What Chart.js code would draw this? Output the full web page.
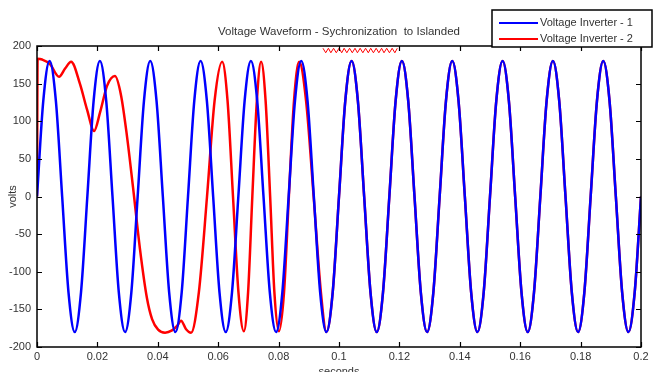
<!DOCTYPE html>
<html>
<head>
<meta charset="utf-8">
<script src="https://cdn.jsdelivr.net/npm/chart.js@4.4.1/dist/chart.umd.min.js"></script>
<style>
    html, body { margin: 0; padding: 0; background: #fff; }
    canvas { display: block; }
</style>
</head>
<body>
<canvas id="voltage-chart" width="654" height="372"></canvas>
<script>
/* ================================= 
  data
==================================== */
// inverter 1 (blue) sample times, seconds
const blueTimes = [
    0, 0.00208, 0.00417, 0.00625, 0.00833, 0.01042, 0.0125, 0.01458,
    0.01667, 0.01875, 0.02083, 0.02292, 0.025, 0.02708, 0.02917, 0.03125,
    0.03333, 0.03542, 0.0375, 0.03958, 0.04167, 0.04375, 0.04583, 0.04792,
    0.05, 0.05208, 0.05417, 0.05625, 0.05833, 0.06042, 0.0625, 0.06458,
    0.06667, 0.06875, 0.07083, 0.07292, 0.075, 0.07708, 0.07917, 0.08125,
    0.08333, 0.08542, 0.0875, 0.08958, 0.09167, 0.09375, 0.09583, 0.09792,
    0.1, 0.10208, 0.10417, 0.10625, 0.10833, 0.11042, 0.1125, 0.11458,
    0.11667, 0.11875, 0.12083, 0.12292, 0.125, 0.12708, 0.12917, 0.13125,
    0.13333, 0.13542, 0.1375, 0.13958, 0.14167, 0.14375, 0.14583, 0.14792,
    0.15, 0.15208, 0.15417, 0.15625, 0.15833, 0.16042, 0.1625, 0.16458,
    0.16667, 0.16875, 0.17083, 0.17292, 0.175, 0.17708, 0.17917, 0.18125,
    0.18333, 0.18542, 0.1875, 0.18958, 0.19167, 0.19375, 0.19583, 0.19792,
    0.2
];
// inverter 1 (blue) volts
const blueVolts = [
    0, 127, 180, 127, 0, -127, -180, -127,
    0, 127, 180, 127, 0, -127, -180, -127,
    0, 127, 180, 127, 0, -127, -180, -127,
    0, 127, 180, 127, 0, -127, -180, -127,
    0, 127, 180, 127, 0, -127, -180, -127,
    0, 127, 180, 127, 0, -127, -180, -127,
    0, 127, 180, 127, 0, -127, -180, -127,
    0, 127, 180, 127, 0, -127, -180, -127,
    0, 127, 180, 127, 0, -127, -180, -127,
    0, 127, 180, 127, 0, -127, -180, -127,
    0, 127, 180, 127, 0, -127, -180, -127,
    0, 127, 180, 127, 0, -127, -180, -127,
    0
];

// inverter 2 (red) before it locks onto inverter 1
const redTimes = [
    0, 0.0002, 0.0017, 0.0043, 0.0073, 0.0093, 0.0113, 0.0142,
    0.0166, 0.0189, 0.0209, 0.0232, 0.0258, 0.0278, 0.0298, 0.0318,
    0.0341, 0.0364, 0.0381, 0.0401, 0.0424, 0.0447, 0.0464, 0.0477,
    0.0493, 0.051, 0.0536, 0.0563, 0.0588, 0.0613, 0.0631, 0.0649,
    0.0667, 0.0685, 0.0699, 0.0713, 0.0728, 0.0742, 0.0757, 0.0772,
    0.0786, 0.0801, 0.0818, 0.0834, 0.0851, 0.0868, 0.0891, 0.0916,
    0.094
];
const redVolts = [
    0, 183, 182, 176, 159, 170, 179, 150,
    115, 87, 112, 147, 160, 135, 80, 12,
    -70, -135, -163, -177, -181, -178, -172, -165,
    -176, -181, -127, 0, 127, 179, 127, 0,
    -127, -179, -127, 0, 127, 179, 127, 0,
    -127, -179, -127, 0, 127, 179, 127, 0,
    -127
];
// from here on red sits on top of blue
const syncIndex = 46;

// small red ripple along the top edge
const rippleTimes = [
    0.0947, 0.0956, 0.0965, 0.0973, 0.0982, 0.0991, 0.1, 0.1009,
    0.1017, 0.1026, 0.1035, 0.1044, 0.1053, 0.1061, 0.107, 0.1079,
    0.1088, 0.1097, 0.1105, 0.1114, 0.1123, 0.1132, 0.1141, 0.1149,
    0.1158, 0.1167, 0.1176, 0.1185, 0.1193
];
const rippleVolts = [
    197, 191, 197, 191, 197, 191, 197, 191,
    197, 191, 197, 191, 197, 191, 197, 191,
    197, 191, 197, 191, 197, 191, 197, 191,
    197, 191, 197, 191, 197
];

const seriesNames = ['Voltage Inverter - 1', 'Voltage Inverter - 2'];
const xTicks = [0, 0.02, 0.04, 0.06, 0.08, 0.1, 0.12, 0.14, 0.16, 0.18, 0.2];
const xTickLabels = ['0', '0.02', '0.04', '0.06', '0.08', '0.1', '0.12', '0.14', '0.16', '0.18', '0.2'];
const yTicks = [-200, -150, -100, -50, 0, 50, 100, 150, 200];
const chartTitle = 'Voltage Waveform - Sychronization  to Islanded';

/* ================================= 
  helpers
==================================== */
const toPoints = (times, volts) => times.map((t, i) => ({ x: t, y: volts[i] }));

const bluePoints = toPoints(blueTimes, blueVolts);
const redPoints = toPoints(
    redTimes.concat(blueTimes.slice(syncIndex)),
    redVolts.concat(blueVolts.slice(syncIndex))
);
const ripplePoints = toPoints(rippleTimes, rippleVolts);

const fontFamily = '"Liberation Sans", Arial, sans-serif';
const textFont = '11px ' + fontFamily;

// matlab style box, inward ticks, title and legend
const matlabFrame = {
    id: 'matlabFrame',
    afterDraw(chart) {
        const { ctx, chartArea: a, scales: { x, y } } = chart;
        ctx.save();

        ctx.strokeStyle = '#000';
        ctx.lineWidth = 1.5;
        ctx.strokeRect(a.left, a.top, a.right - a.left, a.bottom - a.top);

        ctx.beginPath();
        ctx.lineWidth = 1.2;
        x.ticks.forEach(t => {
            const px = Math.round(x.getPixelForValue(t.value)) + 0.5;
            ctx.moveTo(px, a.bottom);
            ctx.lineTo(px, a.bottom - 5);
            ctx.moveTo(px, a.top);
            ctx.lineTo(px, a.top + 5);
        });
        y.ticks.forEach(t => {
            const py = Math.round(y.getPixelForValue(t.value)) + 0.5;
            ctx.moveTo(a.left, py);
            ctx.lineTo(a.left + 5, py);
            ctx.moveTo(a.right, py);
            ctx.lineTo(a.right - 5, py);
        });
        ctx.stroke();

        // title
        ctx.fillStyle = '#333';
        ctx.font = '11.5px ' + fontFamily;
        ctx.textAlign = 'center';
        ctx.textBaseline = 'middle';
        ctx.fillText(chartTitle, (a.left + a.right) / 2, 32);

        // legend box
        const box = { left: 492, top: 10, width: 160, height: 37 };
        ctx.fillStyle = '#fff';
        ctx.fillRect(box.left, box.top, box.width, box.height);
        ctx.strokeStyle = '#000';
        ctx.lineWidth = 1.5;
        ctx.strokeRect(box.left, box.top, box.width, box.height);

        ctx.font = textFont;
        ctx.textAlign = 'left';
        chart.data.datasets.slice(0, 2).forEach((ds, i) => {
            const ly = box.top + 13 + i * 16;
            ctx.strokeStyle = ds.borderColor;
            ctx.lineWidth = 2;
            ctx.beginPath();
            ctx.moveTo(box.left + 7, ly);
            ctx.lineTo(box.left + 46, ly);
            ctx.stroke();
            ctx.fillStyle = '#333';
            ctx.fillText(ds.label, box.left + 48, ly);
        });

        ctx.restore();
    }
};

/* ================================= 
  chart
==================================== */
const voltageCanvas = document.getElementById('voltage-chart');

let voltageData = {
    datasets: [{
        label: seriesNames[0],
        data: bluePoints,
        borderColor: '#0000ff',
        borderWidth: 2.5,
        pointRadius: 0,
        cubicInterpolationMode: 'monotone'
    }, {
        label: seriesNames[1],
        data: redPoints,
        borderColor: '#ff0000',
        borderWidth: 2.5,
        pointRadius: 0,
        cubicInterpolationMode: 'monotone'
    }, {
        label: '',
        data: ripplePoints,
        borderColor: '#ff0000',
        borderWidth: 1,
        pointRadius: 0,
        tension: 0
    }]
};

let voltageOptions = {
    responsive: false,
    devicePixelRatio: 1,
    animation: false,
    events: [],
    layout: {
        padding: { top: 46, right: 13, left: 0, bottom: 0 }
    },
    scales: {
        x: {
            type: 'linear',
            min: 0,
            max: 0.2,
            afterBuildTicks: s => { s.ticks = xTicks.map(v => ({ value: v })); },
            afterFit: s => { s.height = 25; },
            grid: { display: false, drawTicks: false },
            border: { display: false },
            ticks: {
                color: '#333',
                font: { family: fontFamily, size: 11 },
                padding: 3,
                maxRotation: 0,
                autoSkip: false,
                callback: (value, index) => xTickLabels[index]
            },
            title: {
                display: true,
                text: 'seconds',
                color: '#333',
                font: { family: fontFamily, size: 11 },
                padding: { top: 0, bottom: -7 }
            }
        },
        y: {
            min: -200,
            max: 200,
            afterBuildTicks: s => { s.ticks = yTicks.map(v => ({ value: v })); },
            afterFit: s => { s.width = 37; },
            grid: { display: false, drawTicks: false },
            border: { display: false },
            ticks: {
                color: '#333',
                font: { family: fontFamily, size: 11 },
                padding: 6,
                autoSkip: false
            },
            title: {
                display: true,
                text: 'volts',
                color: '#333',
                font: { family: fontFamily, size: 11 },
                padding: { top: 6, bottom: 0 }
            }
        }
    },
    plugins: {
        legend: { display: false },
        title: { display: false },
        tooltip: { enabled: false }
    }
};

let voltageChart = new Chart(voltageCanvas, {
    type: 'line',
    data: voltageData,
    options: voltageOptions,
    plugins: [matlabFrame]
});
</script>
</body>
</html>
